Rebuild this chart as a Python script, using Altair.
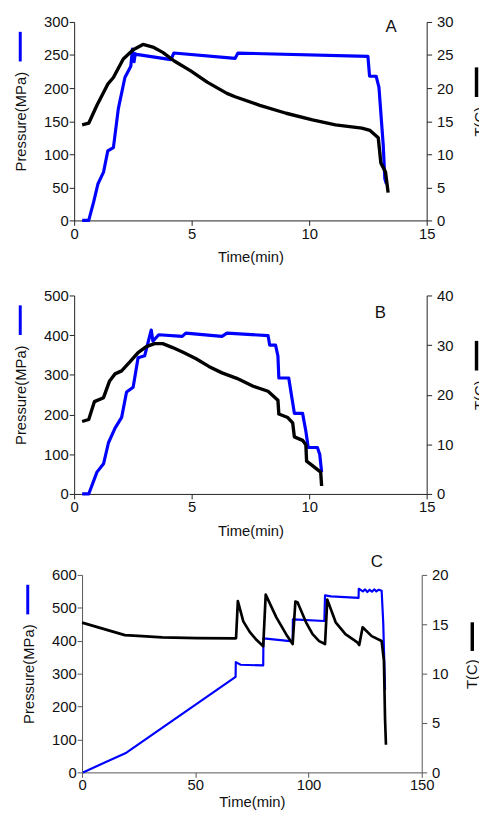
import altair as alt
import pandas as pd

# ---------------- Panel A ----------------
A_p_time = [0.34, 0.62, 0.83, 1.01, 1.25, 1.43, 1.67, 1.88, 2.16, 2.41, 2.48, 2.55, 2.60, 2.65,
            4.12, 4.24, 6.85, 6.97, 12.50, 12.57, 12.85, 12.97, 13.15, 13.22, 13.29]
A_pressure = [0, 0, 28, 55, 73, 105, 110, 169, 216, 233, 259, 240, 252, 251,
              243, 253, 245, 253, 248, 218, 218, 201, 115, 63, 55]
A_T_time = [0.34, 0.62, 0.97, 1.43, 1.67, 2.09, 2.51, 2.93, 3.35, 3.77, 4.26, 4.96, 5.66, 6.5,
            6.85, 7.9, 9.02, 10.14, 11.12, 12.24, 12.59, 12.94, 13.05, 13.25, 13.36]
A_temp = [14.45, 14.7, 17.4, 20.6, 21.6, 24.4, 25.8, 26.6, 26.2, 25.4, 24.1, 22.6, 20.9, 19.2,
          18.7, 17.4, 16.2, 15.2, 14.45, 13.96, 13.6, 12.5, 8.7, 7.3, 4.2]

# ---------------- Panel B ----------------
B_p_time = [0.34, 0.62, 0.97, 1.25, 1.46, 1.74, 2.02, 2.23, 2.51, 2.72, 3.0, 3.28, 3.35, 3.6,
            4.6, 4.75, 6.29, 6.5, 8.25, 8.32, 8.57, 8.67, 8.71, 9.13, 9.37, 9.72, 9.86, 9.96,
            10.35, 10.45, 10.53]
B_pressure = [0, 0, 55, 76, 129, 166, 193, 257, 269, 343, 348, 413, 385, 401,
              397, 405, 397, 405, 399, 375, 375, 348, 292, 292, 203, 203, 158, 117,
              117, 100, 55]
B_T_time = [0.34, 0.62, 0.86, 1.25, 1.5, 1.74, 2.02, 2.37, 2.72, 3.07, 3.42, 3.77, 4.19, 4.61,
            5.17, 5.73, 6.29, 6.92, 7.62, 8.25, 8.67, 8.71, 9.09, 9.3, 9.37, 9.72, 9.86, 9.89,
            10.14, 10.49, 10.53]
B_temp = [14.6, 15.0, 18.6, 19.4, 22.7, 24.2, 24.8, 26.6, 28.5, 29.7, 30.3, 30.3, 29.5, 28.6,
          27.3, 25.7, 24.4, 23.3, 21.7, 20.7, 18.9, 16.1, 15.4, 14.3, 11.5, 10.8, 9.9, 6.6,
          5.7, 4.4, 1.6]

# ---------------- Panel C ----------------
C_p_time = [0.4, 19.6, 67.8, 67.9, 70, 80.0, 80.1, 93.0, 93.1, 107.0, 107.3, 110, 122.1, 122.2,
            124, 125, 126, 127, 128, 129, 130, 131, 132.3, 133.0, 133.8]
C_pressure = [0, 60, 290, 335, 327, 325, 407, 398, 465, 460, 538, 535, 530, 558,
              550, 556, 548, 555, 549, 556, 550, 555, 552, 455, 251]
C_T_time = [0, 18.9, 24.7, 35.4, 50.9, 67.5, 68.0, 68.8, 71.2, 74.1, 77.1, 80.0, 81.1, 85.8,
            90.1, 93.0, 94.2, 95.2, 98.9, 101.8, 104.7, 107.3, 108.3, 112.0, 116.3, 121.4,
            122.4, 123.9, 127.9, 132.3, 133.3, 133.8, 134.2]
C_temp = [15.17, 13.9, 13.83, 13.67, 13.6, 13.57, 13.6, 17.34, 15.3, 14.2, 13.4, 12.77, 18.0, 15.7,
          14.0, 13.0, 17.3, 17.2, 15.2, 14.0, 13.3, 13.0, 17.5, 15.2, 14.0, 13.2,
          12.9, 14.7, 13.8, 13.3, 11.3, 5.4, 2.8]

FONT = "Liberation Sans"
BLUE = "#0000ff"
BLACK = "#000000"


def panel(p_t, p_v, T_t, T_v, xmax, xticks, pmax, pticks, tmax, tticks,
          letter, lx, ly, w, h, segL, segR, lw_b, lw_k, axcol, x0=0, rtp=16, xtp=9, xlp=1):
    xaxis = alt.Axis(values=xticks, title="Time(min)", tickSize=5, labelPadding=xlp,
                     titlePadding=xtp, labelFlush=False, format="d",
                     domainColor=axcol, tickColor=axcol)
    xs = alt.Scale(domain=[0, xmax], nice=False, range=[x0, w])
    dp = pd.DataFrame({"t": p_t, "P": p_v, "i": list(range(len(p_t)))})
    dT = pd.DataFrame({"t": T_t, "T": T_v, "i": list(range(len(T_t)))})
    blue = alt.Chart(dp).mark_line(color=BLUE, strokeWidth=lw_b, strokeJoin="round").encode(
        x=alt.X("t:Q", scale=xs, axis=xaxis),
        y=alt.Y("P:Q", scale=alt.Scale(domain=[0, pmax], nice=False),
                axis=alt.Axis(values=pticks, title="Pressure(MPa)", orient="left",
                              tickSize=5, labelPadding=1, titlePadding=15, labelFlush=False,
                              offset=-x0, domainColor=axcol, tickColor=axcol)),
        order="i:Q",
    )
    black = alt.Chart(dT).mark_line(color=BLACK, strokeWidth=lw_k, strokeJoin="round").encode(
        x=alt.X("t:Q", scale=xs, axis=xaxis),
        y=alt.Y("T:Q", scale=alt.Scale(domain=[0, tmax], nice=False),
                axis=alt.Axis(values=tticks, title="T(C)", orient="right",
                              tickSize=5, labelPadding=5, titlePadding=rtp, labelFlush=False,
                              titleAngle=270, titleBaseline="top",
                              domainColor=axcol, tickColor=axcol)),
        order="i:Q",
    )
    txt = alt.Chart(pd.DataFrame({"k": [letter]})).mark_text(
        font=FONT, fontSize=17, color="#111", baseline="middle", align="center"
    ).encode(x=alt.value(lx), y=alt.value(ly), text="k:N")
    segl = alt.Chart(pd.DataFrame({"k": [0]})).mark_rule(color=BLUE, strokeWidth=3).encode(
        x=alt.value(segL[0]), y=alt.value(segL[1]), y2=alt.value(segL[2]))
    segr = alt.Chart(pd.DataFrame({"k": [0]})).mark_rule(color=BLACK, strokeWidth=3.5).encode(
        x=alt.value(segR[0]), y=alt.value(segR[1]), y2=alt.value(segR[2]))
    return alt.layer(blue, black, txt, segl, segr).resolve_scale(y="independent").properties(
        width=w, height=h)


A = panel(A_p_time, A_pressure, A_T_time, A_temp, 15, [0, 5, 10, 15], 300,
          [0, 50, 100, 150, 200, 250, 300], 30, [0, 5, 10, 15, 20, 25, 30],
          "A", 321, 5, 357, 201, (-54.6, 10, 40), (407.5, 46, 76), 3.2, 3.4, "#222", rtp=20)
B = panel(B_p_time, B_pressure, B_T_time, B_temp, 15, [0, 5, 10, 15], 500,
          [0, 100, 200, 300, 400, 500], 40, [0, 10, 20, 30, 40],
          "B", 310, 17.5, 357, 201, (-54.6, 10, 40), (407.5, 46, 76), 3.2, 3.4, "#222", rtp=20)
C = panel(C_p_time, C_pressure, C_T_time, C_temp, 150, [0, 50, 100, 150], 600,
          [0, 100, 200, 300, 400, 500, 600], 20, [0, 5, 10, 15, 20],
          "C", 306.4, -13.5, 352, 200, (-47, 10, 40), (403.2, 48, 77), 2.2, 2.7, "#555",
          x0=8, rtp=17, xtp=3, xlp=0)

top = alt.concat(A, B, columns=1, spacing=24, align="none")
chart = alt.concat(top, C, columns=1, spacing=14, align="none").properties(
    padding={"left": 5, "top": 2, "right": -9, "bottom": -1}
).configure_axis(
    labelFont=FONT, titleFont=FONT, labelFontSize=15, titleFontSize=15,
    titleFontWeight="normal", grid=False, labelColor="#111", titleColor="#111",
).configure_view(stroke=None)

chart.save("out.html", embed_options={"renderer": "svg", "actions": False})
